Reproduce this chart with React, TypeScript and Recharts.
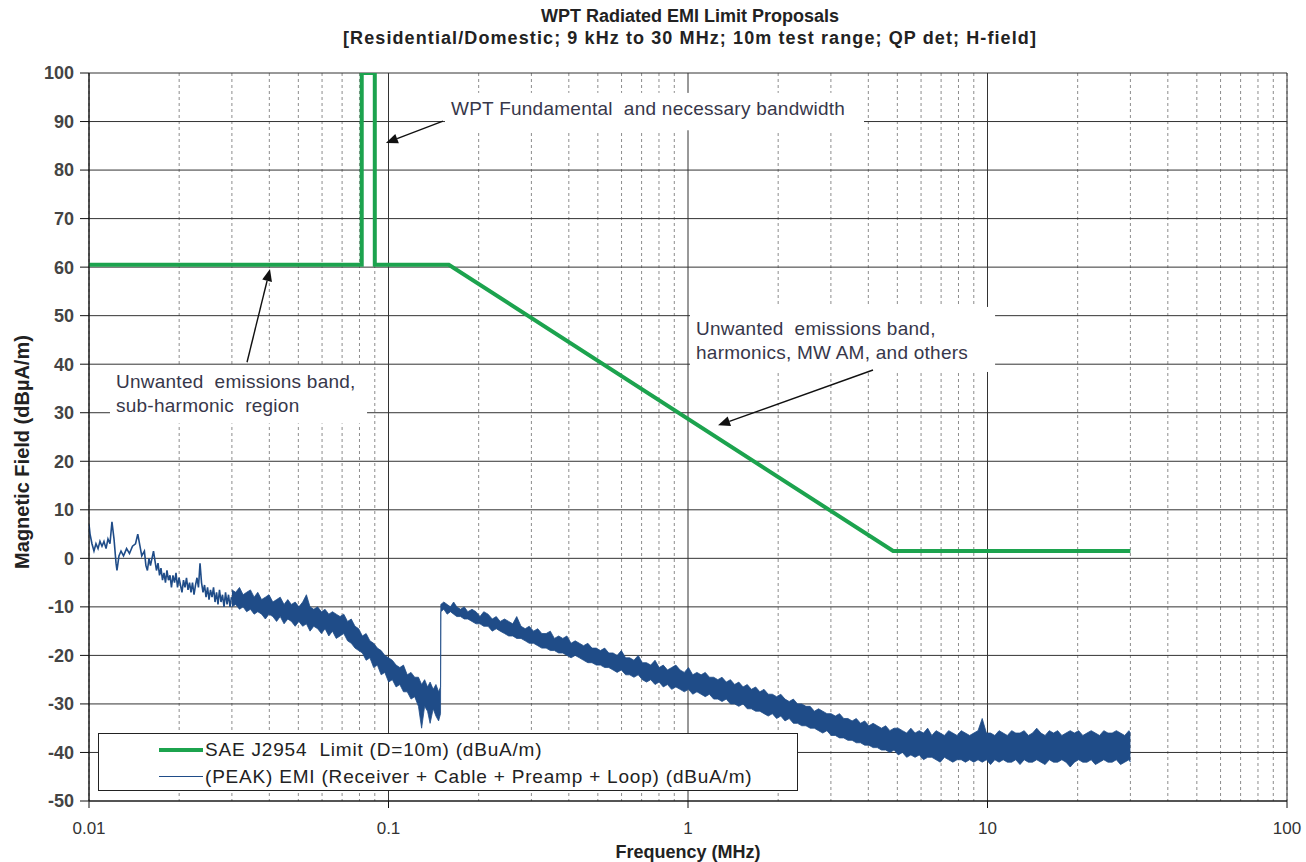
import React from 'react';
import {
  ComposedChart, Line, Area, XAxis, YAxis, CartesianGrid,
  ReferenceLine, ReferenceArea, Legend, Label,
} from 'recharts';

const FONT = '"Liberation Sans", Arial, Helvetica, sans-serif';
const LIMIT_GREEN = '#1ca34e';
const EMI_BLUE = '#1f4c88';
const TEXT_DARK = '#37374a';

// axis ticks (MHz, dBuA/m)
const xMajorTicks = [0.01, 0.1, 1, 10, 100];
const xMinorTicks = [
  0.02, 0.03, 0.04, 0.05, 0.06, 0.07, 0.08, 0.09,
  0.2, 0.3, 0.4, 0.5, 0.6, 0.7, 0.8, 0.9,
  2, 3, 4, 5, 6, 7, 8, 9,
  20, 30, 40, 50, 60, 70, 80, 90,
];
const yTicks = [-50, -40, -30, -20, -10, 0, 10, 20, 30, 40, 50, 60, 70, 80, 90, 100];

// SAE J2954 limit (D=10m)
const limitFreq = [0.01, 0.0814, 0.0814, 0.09, 0.09, 0.159, 4.84, 30];
const limitLevel = [60.5, 60.5, 100, 100, 60.5, 60.5, 1.5, 1.5];

// measured peak EMI, 10 - 30 kHz: single trace [MHz, dBuA/m]
const emiTraceStart: [number, number][] = [
  [0.01000, 7.0], [0.01008, 5.0], [0.01023, 3.0], [0.01039, 1.5], [0.01055, 3.0],
  [0.01072, 2.0], [0.01088, 3.5], [0.01105, 2.5], [0.01122, 3.5], [0.01140, 2.0],
  [0.01157, 4.0], [0.01175, 3.0], [0.01193, 7.5], [0.01212, 4.0], [0.01231, -1.0],
  [0.01240, -2.5], [0.01259, 0.5], [0.01279, 1.5], [0.01304, 0.5], [0.01335, 2.0],
  [0.01365, 1.0], [0.01397, 2.5], [0.01430, 3.0], [0.01455, 5.0], [0.01480, 2.5],
  [0.01500, 0.5], [0.01531, 1.5], [0.01549, -1.5], [0.01567, -2.5], [0.01586, 0.0],
  [0.01604, -1.5], [0.01642, 1.5], [0.01661, -0.5], [0.01680, -2.5], [0.01700, -1.0],
  [0.01720, -3.5], [0.01739, -2.0], [0.01760, -4.5], [0.01780, -3.0], [0.01800, -5.0],
  [0.01821, -2.5], [0.01842, -4.5], [0.01864, -3.5], [0.01885, -6.0], [0.01907, -3.5],
  [0.01930, -5.0], [0.01952, -3.0], [0.01975, -6.0], [0.01998, -4.0], [0.02020, -5.5],
  [0.02044, -7.0], [0.02068, -4.5], [0.02092, -6.0], [0.02116, -4.0], [0.02141, -6.5],
  [0.02166, -5.0], [0.02191, -7.0], [0.02216, -5.0], [0.02242, -7.5], [0.02268, -5.5],
  [0.02294, -4.0], [0.02320, -6.0], [0.02348, -1.0], [0.02375, -5.0], [0.02403, -7.0],
  [0.02431, -5.5], [0.02459, -8.0], [0.02488, -6.0], [0.02516, -8.5], [0.02545, -6.5],
  [0.02575, -8.0], [0.02605, -6.0], [0.02635, -9.0], [0.02666, -7.0], [0.02696, -9.5],
  [0.02727, -6.5], [0.02759, -9.0], [0.02791, -7.5], [0.02824, -10.0], [0.02857, -7.0],
  [0.02890, -9.5], [0.02923, -7.5], [0.02957, -10.0], [0.02990, -8.0],
];

// measured peak EMI, 30 - 150 kHz: dense sweep envelope [MHz, low, high]
const emiDenseBelow150k: [number, number, number][] = [
  [0.0300, -10, -6.5], [0.0309, -9.5, -7], [0.0318, -10.5, -6], [0.0327, -10, -7.5],
  [0.0336, -11, -7], [0.0346, -10.5, -6.5], [0.0356, -11.5, -8], [0.0366, -11, -7],
  [0.0377, -11.5, -8.5], [0.0388, -12.5, -8], [0.0399, -11.5, -7.5], [0.0411, -12, -9],
  [0.0423, -13, -8.5], [0.0435, -12, -8], [0.0448, -13.5, -9.5], [0.0461, -12.5, -8.5],
  [0.0474, -13, -9.5], [0.0488, -14, -9], [0.0502, -13, -10], [0.0517, -14, -9],
  [0.0532, -13.5, -7.5], [0.0547, -15, -10], [0.0563, -14, -10.5], [0.0580, -14.5, -10],
  [0.0597, -15.5, -11], [0.0614, -14.5, -10.5], [0.0632, -16, -11.5], [0.0650, -15, -11],
  [0.0669, -16.5, -11.5], [0.0689, -16, -12], [0.0709, -15.5, -11.5], [0.0730, -17, -13],
  [0.0751, -17.5, -12.5], [0.0773, -18.5, -14], [0.0795, -19, -14.5], [0.0818, -19.5, -16],
  [0.0842, -21, -15.5], [0.0867, -20.5, -17], [0.0892, -22.5, -17.5], [0.0918, -22, -18.5],
  [0.0945, -24, -19], [0.0972, -23.5, -20], [0.1001, -25.5, -20.5], [0.1030, -25, -21],
  [0.1060, -26.5, -22], [0.1091, -26, -22.5], [0.1122, -27.5, -22], [0.1155, -27.5, -24],
  [0.1189, -29, -23.5], [0.1223, -28.5, -24.5], [0.1259, -30.5, -24.5], [0.1290, -35, -26],
  [0.1320, -30.5, -25], [0.1350, -31.5, -26.5], [0.1377, -34, -25.5], [0.1410, -31, -27],
  [0.1440, -32.5, -26], [0.1470, -33.5, -27.5], [0.1492, -32, -26.5],
];

// measured peak EMI, 150 kHz - 30 MHz: dense sweep envelope [MHz, low, high]
const emiDenseAbove150k: [number, number, number][] = [
  [0.1495, -11, -9.5], [0.153, -10.5, -9], [0.157, -11.5, -9.5], [0.161, -11, -10],
  [0.165, -11.5, -9], [0.169, -12, -10], [0.174, -12, -10.5], [0.179, -12.5, -10],
  [0.184, -12.5, -11], [0.190, -13, -10.5], [0.196, -13.5, -11], [0.202, -13.5, -12],
  [0.208, -14, -11], [0.215, -14, -11.5], [0.222, -15, -12.5], [0.229, -14.5, -12],
  [0.236, -15, -13], [0.244, -15.5, -12.5], [0.252, -16, -13], [0.260, -16, -13.5],
  [0.268, -16.5, -12], [0.277, -16.5, -14], [0.286, -17, -14.5], [0.295, -17.5, -14],
  [0.305, -17.5, -15], [0.315, -18, -14.5], [0.325, -18.5, -15.5], [0.336, -18.5, -15.5],
  [0.347, -19, -15], [0.358, -19, -16.5], [0.370, -19.5, -16], [0.382, -19.5, -16.5],
  [0.394, -20, -16], [0.407, -20.5, -17.5], [0.420, -20, -17], [0.434, -20.5, -17.5],
  [0.448, -21, -18], [0.463, -21.5, -17.5], [0.478, -21.5, -18.5], [0.494, -22, -18.5],
  [0.510, -22, -19], [0.527, -22.5, -18.5], [0.544, -22.5, -19.5], [0.562, -23, -19.5],
  [0.580, -23.5, -20], [0.599, -23, -19], [0.619, -24, -20.5], [0.639, -24, -20.5],
  [0.660, -24.5, -21], [0.682, -24, -20], [0.704, -25, -21.5], [0.727, -25.5, -21.5],
  [0.751, -25, -22], [0.776, -26, -21], [0.801, -25.5, -22.5], [0.827, -26.5, -22],
  [0.854, -26, -23], [0.882, -27, -22.5], [0.911, -26.5, -22], [0.941, -27, -23],
  [0.972, -27.5, -23.5], [1.004, -27, -22.5], [1.037, -28, -24], [1.071, -27.5, -23.5],
  [1.106, -28, -24], [1.142, -28.5, -23.5], [1.179, -28, -24.5], [1.218, -29, -24.5],
  [1.258, -29, -25], [1.299, -29.5, -24.5], [1.342, -29, -25.5], [1.386, -30, -25],
  [1.431, -30, -26], [1.478, -30.5, -25.5], [1.527, -30, -26.5], [1.577, -31, -26],
  [1.628, -31, -27], [1.682, -31.5, -26.5], [1.737, -31.5, -27.5], [1.794, -32, -27],
  [1.853, -32.5, -28], [1.913, -32, -28], [1.976, -33, -28.5], [2.041, -32.5, -28],
  [2.108, -33.5, -29], [2.177, -33, -29.5], [2.248, -34, -29], [2.322, -34, -30],
  [2.398, -34.5, -30], [2.477, -34.5, -30.5], [2.558, -35, -30.5], [2.642, -35, -31.5],
  [2.728, -35.5, -31], [2.818, -36, -31.5], [2.910, -35.5, -32], [3.005, -36.5, -32],
  [3.104, -36.5, -32.5], [3.206, -37, -32], [3.311, -37, -33], [3.419, -37.5, -33],
  [3.531, -37.5, -33.5], [3.647, -38, -33], [3.767, -38, -34], [3.890, -38.5, -33.5],
  [4.018, -38.5, -34.5], [4.150, -39, -34], [4.286, -39, -34.5], [4.426, -39.5, -35],
  [4.571, -39.5, -34.5], [4.721, -40, -35.5], [4.876, -39.5, -35], [5.036, -40.5, -35],
  [5.201, -40, -35.5], [5.371, -41, -36], [5.548, -40.5, -35], [5.730, -41, -36],
  [5.918, -40.5, -35.5], [6.112, -41.5, -36], [6.312, -41, -35], [6.519, -41, -36.5],
  [6.733, -41.5, -35.5], [6.954, -42, -36], [7.182, -41, -36.5], [7.417, -41.5, -35.5],
  [7.661, -42, -36], [7.912, -41.5, -36.5], [8.171, -41.5, -35.5], [8.439, -42, -36],
  [8.716, -41.5, -36.5], [9.002, -42, -36], [9.297, -41.5, -35.5], [9.602, -42, -33],
  [9.917, -41.5, -36], [10.24, -42.5, -36], [10.58, -41.5, -36.5], [10.93, -42, -35.5],
  [11.28, -41.5, -36], [11.65, -42, -36.5], [12.04, -42, -35.5], [12.43, -41.5, -36],
  [12.84, -42.5, -36], [13.26, -41.5, -35.5], [13.69, -42, -36.5], [14.14, -42, -36],
  [14.60, -41.5, -35], [15.08, -42, -36], [15.57, -42.5, -36.5], [16.08, -41.5, -35.5],
  [16.61, -42, -36], [17.15, -42, -35.5], [17.71, -41.5, -36.5], [18.29, -42, -36],
  [18.89, -43, -35.5], [19.51, -42, -36], [20.15, -41.5, -35.5], [20.81, -42, -36.5],
  [21.49, -42, -36], [22.19, -41.5, -35.5], [22.92, -42.5, -36], [23.67, -42, -36.5],
  [24.45, -41.5, -35.5], [25.25, -42, -36], [26.08, -42, -36], [26.93, -41.5, -35.5],
  [27.81, -42.5, -36], [28.72, -42, -36.5], [29.66, -41.5, -35.5], [30.00, -42, -36],
];

// annotation boxes [MHz x1, MHz x2, dB y1, dB y2] and their text
const notes = [
  { x1: 0.1544, x2: 3.87, y1: 88.2, y2: 95.9, top: 22, lines: ['WPT Fundamental  and necessary bandwidth'] },
  { x1: 0.01175, x2: 0.0848, y1: 27.8, y2: 39.6, top: 22, lines: ['Unwanted  emissions band,', 'sub-harmonic  region'] },
  { x1: 1.0155, x2: 10.6, y1: 38.4, y2: 51.8, top: 28, lines: ['Unwanted  emissions band,', 'harmonics, MW AM, and others'] },
];

// annotation arrows, tail -> head, in data units
const arrows = [
  [{ x: 0.152, y: 90.1 }, { x: 0.098, y: 85.6 }],
  [{ x: 0.0337, y: 40.4 }, { x: 0.0402, y: 59.6 }],
  [{ x: 4.147, y: 38.8 }, { x: 1.26, y: 27.4 }],
];

const limitData = limitFreq.map((f, i) => ({ f, level: limitLevel[i] }));
const emiStartData = emiTraceStart.map(([f, v]) => ({ f, emi: v }));
const emiDenseData = [...emiDenseBelow150k, ...emiDenseAbove150k].map(([f, lo, hi]) => ({ f, band: [lo, hi] }));

const fmtFreq = (v: number) => String(v);

const ArrowShape = (props: any) => {
  const { x1, y1, x2, y2 } = props;
  if ([x1, y1, x2, y2].some((v) => typeof v !== 'number' || isNaN(v))) return null;
  const ang = Math.atan2(y2 - y1, x2 - x1);
  const len = 12;
  const half = 5;
  const bx = x2 - len * Math.cos(ang);
  const by = y2 - len * Math.sin(ang);
  const p1 = `${bx + half * Math.sin(ang)},${by - half * Math.cos(ang)}`;
  const p2 = `${bx - half * Math.sin(ang)},${by + half * Math.cos(ang)}`;
  return (
    <g>
      <line x1={x1} y1={y1} x2={bx} y2={by} stroke="#111" strokeWidth={1.4} />
      <polygon points={`${x2},${y2} ${p1} ${p2}`} fill="#111" />
    </g>
  );
};

const noteShape = (lines: string[], top: number) => (p: any) => (
  <g>
    <rect x={p.x} y={p.y} width={p.width} height={p.height} fill="#fff" />
    {lines.map((t, i) => (
      <text
        key={i}
        x={p.x + 6}
        y={p.y + top + i * 24}
        fontFamily={FONT}
        fontSize={19}
        letterSpacing={0.25}
        fill={TEXT_DARK}
        style={{ whiteSpace: 'pre' }}
      >
        {t}
      </text>
    ))}
  </g>
);

const LegendBox = () => (
  <div
    style={{
      boxSizing: 'border-box', width: '100%', height: '100%', background: '#fff',
      border: '1.5px solid #222', fontFamily: FONT, fontSize: 19, color: '#222',
      paddingTop: 2,
    }}
  >
    {[
      { name: 'SAE J2954  Limit (D=10m) (dBuA/m)', color: LIMIT_GREEN, w: 4 },
      { name: '(PEAK) EMI (Receiver + Cable + Preamp + Loop) (dBuA/m)', color: EMI_BLUE, w: 1.5 },
    ].map((it) => (
      <div key={it.name} style={{ display: 'flex', alignItems: 'center', height: 27 }}>
        <div style={{ marginLeft: 60, width: 44, height: it.w, background: it.color }} />
        <span style={{ marginLeft: 2, whiteSpace: 'pre', letterSpacing: 0.8 }}>{it.name}</span>
      </div>
    ))}
  </div>
);

export default function App() {
  return (
    <div style={{ position: 'absolute', left: 0, top: 0, width: 1306, height: 862, background: '#fff', fontFamily: FONT }}>
      <div style={{ position: 'absolute', left: 290, top: 5, width: 800, textAlign: 'center', fontWeight: 'bold', fontSize: 18, color: '#222', lineHeight: '22px' }}>
        <div>WPT Radiated EMI Limit Proposals</div>
        <div style={{ letterSpacing: 1.1 }}>[Residential/Domestic; 9 kHz to 30 MHz; 10m test range; QP det; H-field]</div>
      </div>
      <ComposedChart width={1306} height={862} margin={{ top: 73, right: 19, bottom: 0, left: 0 }}>
        <XAxis
          xAxisId="minor"
          dataKey="f"
          type="number"
          scale="log"
          domain={[0.01, 100]}
          ticks={xMinorTicks}
          interval={0}
          allowDataOverflow
          hide
        />
        <CartesianGrid xAxisId="minor" horizontal={false} stroke="#8c8c8c" strokeDasharray="3 3" />
        <CartesianGrid stroke="#333" strokeWidth={1} />
        <XAxis
          dataKey="f"
          type="number"
          scale="log"
          domain={[0.01, 100]}
          ticks={xMajorTicks}
          interval={0}
          allowDataOverflow
          height={61}
          tickSize={7}
          tickMargin={14}
          tickFormatter={fmtFreq}
          tick={{ fontSize: 17, fill: '#333', fontFamily: FONT }}
          stroke="#111"
        >
          <Label
            content={(p: any) => {
              const vb = p.viewBox || { x: 89, y: 801, width: 1198, height: 61 };
              const cx = vb.x + vb.width / 2;
              return (
                <text
                  x={cx}
                  y={858}
                  textAnchor="middle"
                  fontFamily={FONT}
                  fontSize={18}
                  fontWeight="bold"
                  fill="#222"
                >
                  Frequency (MHz)
                </text>
              );
            }}
          />
        </XAxis>
        <YAxis
          type="number"
          domain={[-50, 100]}
          ticks={yTicks}
          interval={0}
          allowDataOverflow
          width={89}
          tickSize={9}
          tickMargin={6}
          tick={{ fontSize: 18, fill: '#444', fontWeight: 'bold', fontFamily: FONT }}
          stroke="#111"
        >
          <Label
            content={(p: any) => {
              const vb = p.viewBox || { x: 0, y: 73, width: 89, height: 728 };
              const cx = vb.x + 22;
              const cy = vb.y + vb.height / 2 + 15;
              return (
                <text
                  x={cx}
                  y={cy}
                  transform={`rotate(-90 ${cx} ${cy})`}
                  textAnchor="middle"
                  dominantBaseline="central"
                  fontFamily={FONT}
                  fontSize={20}
                  fontWeight="bold"
                  fill="#222"
                >
                  Magnetic Field (dBµA/m)
                </text>
              );
            }}
          />
        </YAxis>
        {notes.map((n, i) => (
          <ReferenceArea
            key={`note-${i}`}
            x1={n.x1}
            x2={n.x2}
            y1={n.y1}
            y2={n.y2}
            fill="#fff"
            fillOpacity={1}
            stroke="none"
            shape={noteShape(n.lines, n.top)}
          />
        ))}
        <Area
          data={emiDenseData}
          dataKey="band"
          type="linear"
          stroke={EMI_BLUE}
          strokeWidth={0.8}
          fill={EMI_BLUE}
          fillOpacity={1}
          dot={false}
          activeDot={false}
          isAnimationActive={false}
          name="(PEAK) EMI (Receiver + Cable + Preamp + Loop) (dBuA/m)"
        />
        <Line
          data={emiStartData}
          dataKey="emi"
          type="linear"
          stroke={EMI_BLUE}
          strokeWidth={1.6}
          dot={false}
          activeDot={false}
          isAnimationActive={false}
          legendType="none"
        />
        <Line
          data={limitData}
          dataKey="level"
          type="linear"
          stroke={LIMIT_GREEN}
          strokeWidth={4}
          dot={false}
          activeDot={false}
          isAnimationActive={false}
          name="SAE J2954  Limit (D=10m) (dBuA/m)"
        />
        {arrows.map((seg, i) => (
          <ReferenceLine key={`arrow-${i}`} segment={seg} shape={ArrowShape} ifOverflow="visible" />
        ))}
        <Legend
          layout="horizontal"
          verticalAlign="middle"
          align="center"
          wrapperStyle={{ left: 98, top: 733, width: 700, height: 58 }}
          content={() => <LegendBox />}
        />
      </ComposedChart>
    </div>
  );
}
